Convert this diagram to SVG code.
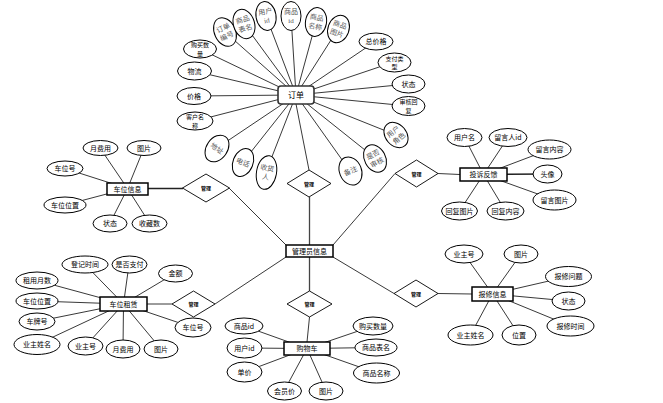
<svg xmlns="http://www.w3.org/2000/svg" width="663" height="403" viewBox="0 0 663 403">
<style>
.c line{stroke:#222;stroke-width:0.9}
.e ellipse{fill:#fff;stroke:#000;stroke-width:1}
.r{fill:#fff;stroke:#000;stroke-width:1.5}
.d{fill:#fff;stroke:#000;stroke-width:0.9}
text{font-family:"Noto Sans CJK SC","Noto Sans",sans-serif;text-anchor:middle;fill:#000}
.t{font-size:7px}
.t2{font-size:6px}
.rt{font-size:8px}
.dt{font-size:5px;font-weight:bold}
.g{font-family:"Liberation Serif","Noto Sans CJK SC",serif;font-size:7px;fill:#555}
</style>
<rect width="663" height="403" fill="#fff"/>
<g id="connectors" class="c">
<line x1="296" y1="95" x2="200" y2="49"/>
<line x1="296" y1="95" x2="194" y2="71"/>
<line x1="296" y1="95" x2="194" y2="96"/>
<line x1="296" y1="95" x2="195" y2="121"/>
<line x1="296" y1="95" x2="217" y2="148"/>
<line x1="296" y1="95" x2="243" y2="162"/>
<line x1="296" y1="95" x2="266" y2="172"/>
<line x1="296" y1="95" x2="350" y2="171"/>
<line x1="296" y1="95" x2="375" y2="158"/>
<line x1="296" y1="95" x2="396" y2="135"/>
<line x1="296" y1="95" x2="408" y2="106"/>
<line x1="296" y1="95" x2="408" y2="84"/>
<line x1="296" y1="95" x2="394" y2="62"/>
<line x1="296" y1="95" x2="376" y2="41"/>
<line x1="296" y1="95" x2="338" y2="29"/>
<line x1="296" y1="95" x2="316" y2="22"/>
<line x1="296" y1="95" x2="291" y2="16"/>
<line x1="296" y1="95" x2="266" y2="16"/>
<line x1="296" y1="95" x2="244" y2="24"/>
<line x1="296" y1="95" x2="225" y2="32"/>
<line x1="296" y1="104" x2="309" y2="170"/>
<line x1="309.5" y1="197" x2="309.5" y2="245" style="stroke-width:1.3;stroke:#444"/>
<line x1="286" y1="245" x2="229" y2="188"/>
<line x1="333" y1="245" x2="395" y2="173.5"/>
<line x1="286" y1="257" x2="215" y2="304"/>
<line x1="333" y1="257" x2="394" y2="293.5"/>
<line x1="309.5" y1="257" x2="309.5" y2="291" style="stroke-width:1.3;stroke:#444"/>
<line x1="309.5" y1="317" x2="307" y2="342"/>
<line x1="148" y1="188.5" x2="183" y2="188.5" style="stroke-width:1.5"/>
<line x1="127.5" y1="188.5" x2="100" y2="148"/>
<line x1="127.5" y1="188.5" x2="144" y2="148"/>
<line x1="127.5" y1="188.5" x2="65" y2="168.5"/>
<line x1="127.5" y1="188.5" x2="65" y2="205"/>
<line x1="127.5" y1="188.5" x2="110" y2="223"/>
<line x1="127.5" y1="188.5" x2="149.5" y2="223"/>
<line x1="438" y1="173.5" x2="460" y2="174.5"/>
<line x1="483.5" y1="174.5" x2="464.5" y2="137.5"/>
<line x1="483.5" y1="174.5" x2="508" y2="137.5"/>
<line x1="483.5" y1="174.5" x2="549.5" y2="149.5"/>
<line x1="483.5" y1="174.5" x2="547.5" y2="174" style="stroke-width:1.5"/>
<line x1="483.5" y1="174.5" x2="554.5" y2="200"/>
<line x1="483.5" y1="174.5" x2="459.5" y2="211"/>
<line x1="483.5" y1="174.5" x2="505.5" y2="211"/>
<line x1="172" y1="304" x2="147" y2="304"/>
<line x1="123.5" y1="304" x2="85" y2="264.5"/>
<line x1="123.5" y1="304" x2="129" y2="264.5"/>
<line x1="123.5" y1="304" x2="175.5" y2="273"/>
<line x1="123.5" y1="304" x2="37" y2="280.5"/>
<line x1="123.5" y1="304" x2="37" y2="301"/>
<line x1="123.5" y1="304" x2="37" y2="321.5"/>
<line x1="123.5" y1="304" x2="37" y2="344.5"/>
<line x1="123.5" y1="304" x2="85.5" y2="346"/>
<line x1="123.5" y1="304" x2="123" y2="349"/>
<line x1="123.5" y1="304" x2="161" y2="349"/>
<line x1="123.5" y1="304" x2="193" y2="327.5"/>
<line x1="307" y1="348.5" x2="244" y2="326"/>
<line x1="307" y1="348.5" x2="244.5" y2="348"/>
<line x1="307" y1="348.5" x2="244.5" y2="372"/>
<line x1="307" y1="348.5" x2="284" y2="391"/>
<line x1="307" y1="348.5" x2="326" y2="391"/>
<line x1="307" y1="348.5" x2="373" y2="326"/>
<line x1="307" y1="348.5" x2="376" y2="347.5"/>
<line x1="307" y1="348.5" x2="376.5" y2="373"/>
<line x1="438" y1="293.5" x2="472" y2="294"/>
<line x1="492.5" y1="294" x2="464" y2="254"/>
<line x1="492.5" y1="294" x2="521" y2="254"/>
<line x1="492.5" y1="294" x2="568.5" y2="276.5"/>
<line x1="492.5" y1="294" x2="568.5" y2="301"/>
<line x1="492.5" y1="294" x2="570.5" y2="326"/>
<line x1="492.5" y1="294" x2="470.5" y2="335"/>
<line x1="492.5" y1="294" x2="519" y2="335"/>
</g>

<g id="order-attrs" class="e">
<ellipse cx="200" cy="49" rx="16.5" ry="9"/>
<text class="t2" x="200" y="47">购买数<tspan x="200" dy="8.8">量</tspan></text>
<ellipse cx="194.5" cy="71" rx="17" ry="9"/>
<text class="t" x="194.5" y="73.5">物流</text>
<ellipse cx="194" cy="96" rx="17" ry="8.5"/>
<text class="t" x="194" y="98.5">价格</text>
<ellipse cx="195" cy="121" rx="18" ry="9"/>
<text class="t2" x="195" y="119">客户名<tspan x="195" dy="8.8">称</tspan></text>
<ellipse cx="376" cy="41.5" rx="17" ry="8.5"/>
<text class="t" x="376" y="44">总价格</text>
<ellipse cx="394.5" cy="62.5" rx="16.5" ry="9.5"/>
<text class="t2" x="394.5" y="60.5">支付类<tspan x="394.5" dy="8.8">型</tspan></text>
<ellipse cx="408.5" cy="84" rx="16.5" ry="9"/>
<text class="t" x="408.5" y="86.5">状态</text>
<ellipse cx="408.5" cy="106" rx="16.5" ry="9.5"/>
<text class="t2" x="408.5" y="104">审核回<tspan x="408.5" dy="8.8">复</tspan></text>
<g transform="translate(225,32) rotate(-25)"><ellipse rx="10.5" ry="15"/><text class="g" y="-2">订单<tspan x="0" dy="9">编号</tspan></text></g>
<g transform="translate(244,24) rotate(-18)"><ellipse rx="10.5" ry="15"/><text class="g" y="-2">商品<tspan x="0" dy="9">表名</tspan></text></g>
<g transform="translate(266,16) rotate(-10)"><ellipse rx="10" ry="14.5"/><text class="g" y="-2">用户<tspan x="0" dy="9">id</tspan></text></g>
<g transform="translate(291,16) rotate(0)"><ellipse rx="10" ry="14.5"/><text class="g" y="-2">商品<tspan x="0" dy="9">id</tspan></text></g>
<g transform="translate(316,22) rotate(10)"><ellipse rx="10.5" ry="14.5"/><text class="g" y="-2">商品<tspan x="0" dy="9">名称</tspan></text></g>
<g transform="translate(338.5,29) rotate(20)"><ellipse rx="10.5" ry="14"/><text class="g" y="-2">商品<tspan x="0" dy="9">图片</tspan></text></g>
<g transform="translate(396,135) rotate(-40)"><ellipse rx="10.5" ry="14"/><text class="g" y="-2">用户<tspan x="0" dy="9">角色</tspan></text></g>
<g transform="translate(375,158.5) rotate(-28)"><ellipse rx="10.5" ry="14.5"/><text class="g" y="-2">是否<tspan x="0" dy="9">审核</tspan></text></g>
<g transform="translate(350.5,171) rotate(-22)"><ellipse rx="11" ry="14.5"/><text class="g" y="2.5">备注</text></g>
<g transform="translate(266.5,172.5) rotate(10)"><ellipse rx="10" ry="17"/><text class="g" y="-2">收货<tspan x="0" dy="9">人</tspan></text></g>
<g transform="translate(243,162.5) rotate(22)"><ellipse rx="10" ry="14.5"/><text class="g" y="2.5">电话</text></g>
<g transform="translate(217,148.5) rotate(35)"><ellipse rx="10.5" ry="14.5"/><text class="g" y="2.5">地址</text></g>
</g>
<g id="order">
<rect x="278" y="86" width="36" height="18" rx="3" fill="#fff" stroke="#333" stroke-width="1.6"/>
<text class="rt" x="296" y="98">订单</text>
</g>

<g id="parking-info" class="e">
<rect class="r" x="107" y="183" width="41" height="12"/>
<text class="t" x="127.5" y="191.5">车位信息</text>
<ellipse cx="100.5" cy="148" rx="17.5" ry="7.5"/><text class="t" x="100.5" y="150.5">月费用</text>
<ellipse cx="144" cy="148" rx="17" ry="7.5"/><text class="t" x="144" y="150.5">图片</text>
<ellipse cx="65" cy="168.5" rx="18" ry="7.5"/><text class="t" x="65" y="171">车位号</text>
<ellipse cx="65" cy="205" rx="21" ry="8"/><text class="t" x="65" y="207.5">车位位置</text>
<ellipse cx="110" cy="223.5" rx="17" ry="8.5"/><text class="t" x="110" y="226">状态</text>
<ellipse cx="149.5" cy="223.5" rx="17.5" ry="8.5"/><text class="t" x="149.5" y="226">收藏数</text>
</g>

<g id="admin">
<rect class="r" x="286" y="245" width="47" height="12"/>
<text class="t" x="309.5" y="253.5">管理员信息</text>
</g>

<g id="complaint" class="e">
<rect class="r" x="460" y="168" width="47" height="13"/>
<text class="t" x="483.5" y="177">投诉反馈</text>
<ellipse cx="464.5" cy="137.5" rx="17.5" ry="9"/><text class="t" x="464.5" y="140">用户名</text>
<ellipse cx="508" cy="137.5" rx="19" ry="9"/><text class="t" x="508" y="140">留言人id</text>
<ellipse cx="549.5" cy="149.5" rx="21.5" ry="9.5"/><text class="t" x="549.5" y="152">留言内容</text>
<ellipse cx="547.5" cy="174" rx="14.5" ry="9"/><text class="t" x="547.5" y="176.5">头像</text>
<ellipse cx="554.5" cy="200" rx="21.5" ry="10"/><text class="t" x="554.5" y="202.5">留言图片</text>
<ellipse cx="459.5" cy="211" rx="18" ry="9"/><text class="t" x="459.5" y="213.5">回复图片</text>
<ellipse cx="505.5" cy="211" rx="18.5" ry="9"/><text class="t" x="505.5" y="213.5">回复内容</text>
</g>

<g id="rental" class="e">
<rect class="r" x="100" y="297" width="47" height="14"/>
<text class="t" x="123.5" y="306.5">车位租赁</text>
<ellipse cx="85" cy="264.5" rx="23" ry="8.5"/><text class="t" x="85" y="267">登记时间</text>
<ellipse cx="129.5" cy="264.5" rx="17.5" ry="8.5"/><text class="t" x="129.5" y="267">是否支付</text>
<ellipse cx="175.5" cy="273.5" rx="17" ry="8.5"/><text class="t" x="175.5" y="276">金额</text>
<ellipse cx="37" cy="280.5" rx="21" ry="8.5"/><text class="t" x="37" y="283">租用月数</text>
<ellipse cx="37" cy="301" rx="21" ry="8"/><text class="t" x="37" y="303.5">车位位置</text>
<ellipse cx="37" cy="321.5" rx="18" ry="8.5"/><text class="t" x="37" y="324">车牌号</text>
<ellipse cx="37" cy="344.5" rx="23" ry="10"/><text class="t" x="37" y="347">业主姓名</text>
<ellipse cx="85.5" cy="346" rx="17.5" ry="9"/><text class="t" x="85.5" y="348.5">业主号</text>
<ellipse cx="123" cy="349" rx="17" ry="9"/><text class="t" x="123" y="351.5">月费用</text>
<ellipse cx="161" cy="349" rx="17" ry="9"/><text class="t" x="161" y="351.5">图片</text>
<ellipse cx="193" cy="327.5" rx="18" ry="9.5"/><text class="t" x="193" y="330">车位号</text>
</g>

<g id="cart" class="e">
<rect class="r" x="284" y="342" width="46" height="13"/>
<text class="t" x="307" y="351">购物车</text>
<ellipse cx="244" cy="326" rx="19" ry="8"/><text class="t" x="244" y="328.5">商品id</text>
<ellipse cx="244.5" cy="348" rx="17.5" ry="10"/><text class="t" x="244.5" y="350.5">用户id</text>
<ellipse cx="244.5" cy="372" rx="17.5" ry="10"/><text class="t" x="244.5" y="374.5">单价</text>
<ellipse cx="284.5" cy="391" rx="17" ry="9"/><text class="t" x="284.5" y="393.5">会员价</text>
<ellipse cx="326" cy="391" rx="17" ry="9"/><text class="t" x="326" y="393.5">图片</text>
<ellipse cx="373" cy="326" rx="20" ry="9"/><text class="t" x="373" y="328.5">购买数量</text>
<ellipse cx="376" cy="347.5" rx="21" ry="8.5"/><text class="t" x="376" y="350">商品表名</text>
<ellipse cx="376.5" cy="373" rx="23" ry="10"/><text class="t" x="376.5" y="375.5">商品名称</text>
</g>

<g id="repair" class="e">
<rect class="r" x="472" y="287" width="41" height="14"/>
<text class="t" x="492.5" y="296.5">报修信息</text>
<ellipse cx="464" cy="254" rx="19" ry="9"/><text class="t" x="464" y="256.5">业主号</text>
<ellipse cx="521" cy="254" rx="17" ry="9"/><text class="t" x="521" y="256.5">图片</text>
<ellipse cx="568.5" cy="276.5" rx="23" ry="10"/><text class="t" x="568.5" y="279">报修问题</text>
<ellipse cx="568.5" cy="301" rx="16.5" ry="9"/><text class="t" x="568.5" y="303.5">状态</text>
<ellipse cx="570.5" cy="326" rx="23.5" ry="10"/><text class="t" x="570.5" y="328.5">报修时间</text>
<ellipse cx="470.5" cy="335" rx="22.5" ry="10"/><text class="t" x="470.5" y="337.5">业主姓名</text>
<ellipse cx="519" cy="335" rx="17" ry="10"/><text class="t" x="519" y="337.5">位置</text>
</g>

<g id="rel-parking-info">
<polygon class="d" points="182.5,188 206,174 229.5,188 206,202"/>
<text class="dt" x="206" y="190">管理</text>
</g>
<g id="rel-order">
<polygon class="d" points="287,183.5 309,170 331,183.5 309,197"/>
<text class="dt" x="309" y="185.5">管理</text>
</g>
<g id="rel-complaint">
<polygon class="d" points="395,173.5 416.5,160 438,173.5 416.5,187"/>
<text class="dt" x="416.5" y="175.5">管理</text>
</g>
<g id="rel-rental">
<polygon class="d" points="172,304 193.5,291 215,304 193.5,317"/>
<text class="dt" x="193.5" y="306">管理</text>
</g>
<g id="rel-cart">
<polygon class="d" points="287,304 309.5,291 332,304 309.5,317"/>
<text class="dt" x="309.5" y="306">管理</text>
</g>
<g id="rel-repair">
<polygon class="d" points="394,293.5 416,280 438,293.5 416,307"/>
<text class="dt" x="416" y="295.5">管理</text>
</g>
</svg>
